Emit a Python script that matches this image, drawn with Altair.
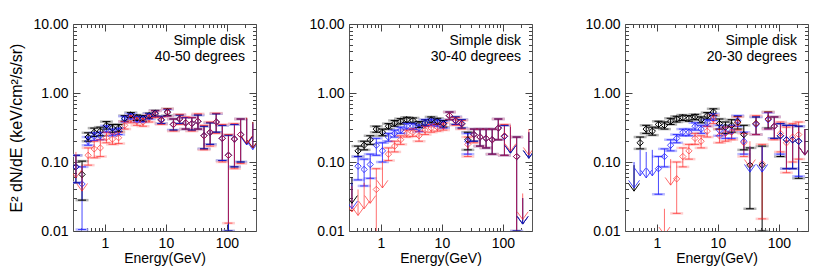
import altair as alt
import pandas as pd

ENERGY = [0.335, 0.422, 0.531, 0.668, 0.841, 1.06, 1.33, 1.68, 2.11, 2.66,
          3.35, 4.22, 5.31, 6.68, 8.41, 10.6, 13.3, 16.8, 21.1, 26.6,
          33.5, 42.2, 53.1, 66.8, 84.1, 106, 133, 168, 211, 266]

HEADER = "Simple disk"
SUBTITLES = ["40-50 degrees", "30-40 degrees", "20-30 degrees"]
Y_TITLE = "E² dN/dE (keV/cm²/s/sr)"
X_TITLE = "Energy(GeV)"

U = "UL"
# entry: (value, low, high) | (U, upper limit) | None

# ---- panel 1 : 40-50 degrees ----
P1_BLACK = [(0.085, 0.05, 0.125), (0.066, 0.028, 0.103), (0.23, 0.2, 0.265), (0.27, 0.235, 0.31),
            (0.28, 0.24, 0.32), (0.34, 0.3, 0.385), (0.31, 0.27, 0.35), (0.31, 0.275, 0.35),
            (0.43, 0.39, 0.47), (0.48, 0.44, 0.52), (0.44, 0.4, 0.48), (0.43, 0.39, 0.47),
            (0.47, 0.43, 0.51), (0.51, 0.46, 0.56), (0.41, 0.36, 0.46), (0.53, 0.47, 0.59),
            (0.35, 0.29, 0.42), (0.42, 0.36, 0.48), (0.37, 0.3, 0.44), (0.36, 0.29, 0.44),
            (0.39, 0.3, 0.48), (0.24, 0.155, 0.33), (0.27, 0.18, 0.37), (0.38, 0.27, 0.5),
            (0.22, 0.105, 0.34), (0.125, 0.01, 0.245), (0.215, 0.085, 0.35), (0.25, 0.1, 0.42),
            (U, 0.43), (U, 0.38)]
P1_BLUE = [(0.085, 0.05, 0.125), (0.048, 0.0105, 0.085), (0.2, 0.175, 0.23), (0.235, 0.205, 0.265),
           (0.24, 0.21, 0.27), (0.3, 0.27, 0.335), (0.27, 0.24, 0.3), (0.28, 0.25, 0.31),
           (0.42, 0.38, 0.46), (0.46, 0.42, 0.5), (0.42, 0.38, 0.46), (0.42, 0.38, 0.46),
           (0.46, 0.42, 0.5), (0.5, 0.45, 0.55), (0.41, 0.36, 0.46), (0.52, 0.46, 0.58),
           (0.35, 0.29, 0.42), (0.42, 0.36, 0.48), (0.37, 0.3, 0.44), (0.36, 0.29, 0.44),
           (0.39, 0.3, 0.48), (0.24, 0.155, 0.33), (0.27, 0.18, 0.37), (0.38, 0.27, 0.5),
           (0.22, 0.105, 0.34), (0.125, 0.01, 0.245), (0.215, 0.085, 0.35), (0.25, 0.1, 0.42),
           (U, 0.42), (U, 0.36)]
P1_RED = [(U, 0.14), (U, 0.09), (0.125, 0.09, 0.16), (0.155, 0.115, 0.2),
          (0.16, 0.12, 0.21), (0.225, 0.19, 0.27), (0.215, 0.18, 0.255), (0.225, 0.185, 0.27),
          (0.34, 0.3, 0.385), (0.42, 0.37, 0.47), (0.39, 0.34, 0.44), (0.38, 0.33, 0.43),
          (0.43, 0.38, 0.48), (0.49, 0.44, 0.55), (0.4, 0.35, 0.45), (0.52, 0.46, 0.59),
          (0.35, 0.28, 0.42), (0.42, 0.35, 0.49), (0.37, 0.3, 0.45), (0.36, 0.28, 0.44),
          (0.39, 0.3, 0.5), (0.24, 0.15, 0.34), (0.27, 0.17, 0.38), (0.38, 0.26, 0.51),
          (0.22, 0.1, 0.35), (0.125, 0.013, 0.25), (0.215, 0.08, 0.36), (0.25, 0.095, 0.42),
          (U, 0.44), (U, 0.38)]

# ---- panel 2 : 30-40 degrees ----
P2_BLACK = [(U, 0.06), (0.145, 0.12, 0.17), (0.175, 0.15, 0.2), (0.21, 0.18, 0.24),
            (0.3, 0.27, 0.33), (0.27, 0.24, 0.3), (0.33, 0.3, 0.36), (0.365, 0.33, 0.4),
            (0.39, 0.355, 0.425), (0.41, 0.375, 0.445), (0.4, 0.365, 0.435), (0.35, 0.315, 0.385),
            (0.37, 0.335, 0.41), (0.41, 0.37, 0.45), (0.39, 0.35, 0.43), (0.36, 0.32, 0.4),
            (0.47, 0.41, 0.53), (0.4, 0.35, 0.45), (0.36, 0.31, 0.41), (0.21, 0.15, 0.27),
            (0.25, 0.2, 0.3), (0.23, 0.17, 0.3), (0.22, 0.16, 0.3), (0.21, 0.13, 0.3),
            (0.31, 0.21, 0.42), (0.235, 0.125, 0.34), (U, 0.32), (0.12, 0.01, 0.23),
            (U, 0.03), (U, 0.27)]
P2_BLUE = [(U, 0.05), (0.087, 0.055, 0.12), (0.078, 0.045, 0.11), (0.092, 0.058, 0.13),
           (0.175, 0.125, 0.22), (0.145, 0.1, 0.19), (0.23, 0.2, 0.26), (0.26, 0.23, 0.29),
           (0.29, 0.26, 0.32), (0.33, 0.3, 0.365), (0.33, 0.295, 0.365), (0.31, 0.275, 0.345),
           (0.37, 0.33, 0.41), (0.38, 0.34, 0.42), (0.37, 0.33, 0.41), (0.35, 0.31, 0.39),
           (0.47, 0.41, 0.53), (0.4, 0.35, 0.45), (0.36, 0.31, 0.41), (0.2, 0.13, 0.26),
           (0.25, 0.2, 0.3), (0.23, 0.17, 0.3), (0.22, 0.16, 0.3), (0.21, 0.13, 0.3),
           (0.31, 0.21, 0.42), (0.235, 0.125, 0.34), (U, 0.32), (0.12, 0.01, 0.23),
           (U, 0.03), (U, 0.27)]
P2_RED = [(U, 0.045), (U, 0.04), (U, 0.05), (U, 0.06),
          (0.04, 0.008, 0.08), (U, 0.1), (0.13, 0.105, 0.16), (0.17, 0.14, 0.2),
          (0.21, 0.18, 0.24), (0.26, 0.23, 0.29), (0.27, 0.235, 0.305), (0.24, 0.2, 0.28),
          (0.29, 0.25, 0.33), (0.31, 0.27, 0.35), (0.32, 0.28, 0.36), (0.33, 0.29, 0.37),
          (0.47, 0.41, 0.53), (0.39, 0.34, 0.44), (0.35, 0.3, 0.4), (0.18, 0.12, 0.23),
          (0.25, 0.19, 0.3), (0.23, 0.17, 0.3), (0.22, 0.16, 0.3), (0.21, 0.13, 0.3),
          (0.31, 0.21, 0.42), (0.24, 0.125, 0.35), (U, 0.34), (0.12, 0.008, 0.23),
          (U, 0.035), (U, 0.3)]

# ---- panel 3 : 20-30 degrees ----
P3_BLACK = [None, (U, 0.09), (0.19, 0.155, 0.23), (0.3, 0.26, 0.34),
            (0.28, 0.245, 0.32), (0.35, 0.31, 0.39), (0.34, 0.3, 0.38), (0.39, 0.35, 0.43),
            (0.42, 0.38, 0.46), (0.44, 0.4, 0.48), (0.43, 0.39, 0.47), (0.45, 0.41, 0.49),
            (0.41, 0.37, 0.45), (0.47, 0.42, 0.52), (0.53, 0.47, 0.59), (0.36, 0.3, 0.42),
            (0.32, 0.26, 0.38), (0.34, 0.27, 0.41), (0.38, 0.3, 0.46), (0.25, 0.15, 0.34),
            (0.09, 0.021, 0.16), (0.36, 0.25, 0.45), (0.09, 0.01, 0.17), (0.42, 0.31, 0.53),
            (0.33, 0.22, 0.45), (0.24, 0.12, 0.36), (0.21, 0.08, 0.34), (0.21, 0.08, 0.34),
            (0.2, 0.058, 0.33), (U, 0.3)]
P3_BLUE = [None, (U, 0.1), (U, 0.15), (U, 0.14),
           (U, 0.15), (0.08, 0.034, 0.12), (0.12, 0.085, 0.155), (0.175, 0.145, 0.21),
           (0.22, 0.19, 0.25), (0.27, 0.24, 0.3), (0.27, 0.24, 0.3), (0.33, 0.29, 0.37),
           (0.3, 0.26, 0.34), (0.37, 0.33, 0.41), (0.45, 0.4, 0.5), (0.29, 0.24, 0.34),
           (0.27, 0.22, 0.32), (0.28, 0.22, 0.34), (0.4, 0.33, 0.47), (0.2, 0.13, 0.27),
           (U, 0.17), (0.35, 0.25, 0.45), (U, 0.17), (0.41, 0.3, 0.52),
           (0.33, 0.22, 0.45), (0.24, 0.13, 0.36), (0.21, 0.08, 0.34), (0.21, 0.08, 0.34),
           (0.2, 0.062, 0.33), (U, 0.3)]
P3_RED = [None, None, None, None,
          None, None, (U, 0.021), (U, 0.11),
          (0.057, 0.018, 0.1), (0.12, 0.085, 0.16), (0.145, 0.11, 0.18), (0.22, 0.18, 0.26),
          (0.2, 0.16, 0.24), (0.28, 0.23, 0.33), (0.42, 0.36, 0.48), (0.24, 0.19, 0.3),
          (0.26, 0.2, 0.32), (0.27, 0.21, 0.33), (0.37, 0.29, 0.45), (0.19, 0.12, 0.26),
          (U, 0.2), (0.36, 0.25, 0.47), (0.095, 0.015, 0.18), (0.42, 0.3, 0.53),
          (0.33, 0.21, 0.45), (0.26, 0.14, 0.38), (0.19, 0.07, 0.32), (0.23, 0.1, 0.36),
          (0.25, 0.11, 0.38), (U, 0.3)]

PANELS = [(P1_BLACK, P1_BLUE, P1_RED), (P2_BLACK, P2_BLUE, P2_RED), (P3_BLACK, P3_BLUE, P3_RED)]

SERIES = ["black", "blue", "red"]
COLORS = {"black": "#000000", "blue": "#1c1cff", "red": "#ff2222"}
LIGHT = {"black": "#b4b4b4", "blue": "#aaaaff", "red": "#ffb4b4"}
OPAC = {"black": 1.0, "blue": 0.8, "red": 0.65}

X_MAJOR = [1, 10, 100]
X_MINOR = [0.4, 0.5, 0.6, 0.7, 0.8, 0.9, 2, 3, 4, 5, 6, 7, 8, 9,
           20, 30, 40, 50, 60, 70, 80, 90, 200]
Y_MAJOR = [0.01, 0.1, 1, 10]
Y_MINOR = [0.02, 0.03, 0.04, 0.05, 0.06, 0.07, 0.08, 0.09,
           0.2, 0.3, 0.4, 0.5, 0.6, 0.7, 0.8, 0.9, 2, 3, 4, 5, 6, 7, 8, 9]

W, H = 183, 207
FONT = "Liberation Sans"
XS = alt.Scale(type="log", domain=[0.3, 300], nice=False)
YS = alt.Scale(type="log", domain=[0.01, 10], nice=False)
TICK_COLOR = "#444444"


def frames(series_lists):
    pts, uls = [], []
    for name, entries in zip(SERIES, series_lists):
        for e, ent in zip(ENERGY, entries):
            if ent is None:
                continue
            common = dict(E=e, s=name, col=COLORS[name], light=LIGHT[name], op=OPAC[name])
            if ent[0] == U:
                uls.append(dict(ul=ent[1], **common))
            else:
                pts.append(dict(val=ent[0], lo=ent[1], hi=ent[2], **common))
    return pd.DataFrame(pts), pd.DataFrame(uls)


def tick_axis(orient, offset, values, size):
    return alt.Axis(orient=orient, offset=offset, values=values, tickSize=size,
                    tickColor=TICK_COLOR, tickWidth=1, labels=False, domain=False,
                    grid=False, title=None)


def panel(idx):
    pts, uls = frames(PANELS[idx])
    bp = alt.Chart(pts)
    bu = alt.Chart(uls).transform_calculate(tip="datum.ul * 0.42")
    xx = alt.X("E:Q", scale=XS, axis=None)
    col = alt.Color("col:N", scale=None)
    op = alt.Opacity("op:Q", scale=None)

    def yq(f):
        return alt.Y(f, type="quantitative", scale=YS, axis=None)

    layers = []
    for f in ["lo", "hi"]:
        layers.append(bp.mark_tick(orient="horizontal", size=13, thickness=2.5, clip=True).encode(
            x=xx, y=yq(f), color=alt.Color("light:N", scale=None), opacity=op))
    layers.append(bp.mark_rule(strokeWidth=1, clip=True).encode(
        x=xx, y=yq("lo"), y2="hi:Q", color=col, opacity=op))
    for f in ["lo", "hi"]:
        layers.append(bp.mark_tick(orient="horizontal", size=8, thickness=1, clip=True).encode(
            x=xx, y=yq(f), color=col, opacity=op))
    layers.append(bp.mark_point(shape="diamond", size=40, filled=False, strokeWidth=1, clip=True).encode(
        x=xx, y=yq("val"), color=col, opacity=op))
    layers.append(bu.mark_rule(strokeWidth=1, clip=True).encode(
        x=xx, y=yq("ul"), y2="tip:Q", color=col, opacity=op))
    layers.append(bu.mark_point(shape="M-1,-1.4L0,0L1,-1.4", size=120, filled=False,
                                strokeWidth=1, clip=True).encode(
        x=xx, y=yq("tip"), color=col, opacity=op))

    # annotations
    txt = pd.DataFrame({"t": [HEADER, SUBTITLES[idx]], "row": [0, 1]})
    for r, yy in [(0, 17), (1, 33)]:
        layers.append(alt.Chart(txt).transform_filter(f"datum.row == {r}").mark_text(
            align="right", baseline="middle", fontSize=14, font=FONT, color="black").encode(
            text="t:N", x=alt.value(W - 11), y=alt.value(yy)))

    # axes: labels
    ytitle = Y_TITLE if idx == 0 else None
    layers.append(bp.mark_point(opacity=0).encode(
        x=alt.X("E:Q", scale=XS, axis=alt.Axis(
            values=X_MAJOR, format="~g", ticks=False, domain=False, grid=False,
            labelPadding=5, labelFontSize=14, labelFont=FONT, labelColor="black",
            title=X_TITLE, titleFontSize=14, titleFont=FONT, titleFontWeight="normal",
            titleColor="black", titlePadding=1)),
        y=alt.Y("val:Q", scale=YS, axis=alt.Axis(
            values=Y_MAJOR, format=".2f", ticks=False, domain=False, grid=False,
            labelPadding=5, labelFontSize=14, labelFont=FONT, labelColor="black",
            title=ytitle, titleFontSize=16, titleFont=FONT, titleFontWeight="normal",
            titleColor="black", titlePadding=8))))
    # inward ticks (bottom/left edges, then top/right edges)
    for xo, yo in [("top", "right"), ("bottom", "left")]:
        for xv, yv, sz in [(X_MAJOR, Y_MAJOR, 7), (X_MINOR, Y_MINOR, 3.5)]:
            layers.append(bp.mark_point(opacity=0).encode(
                x=alt.X("E:Q", scale=XS, axis=tick_axis(xo, -H, xv, sz)),
                y=alt.Y("val:Q", scale=YS, axis=tick_axis(yo, -W, yv, sz))))

    return alt.layer(*layers).resolve_axis(x="independent", y="independent").properties(
        width=W, height=H)


chart = alt.hconcat(panel(0), panel(1), panel(2), spacing=93, bounds="flush").properties(
    padding={"left": 0, "top": 8, "right": 5, "bottom": 0}
).configure_view(stroke="#555555", strokeWidth=1)

chart.save("out.html", embed_options={"renderer": "svg", "actions": False})
